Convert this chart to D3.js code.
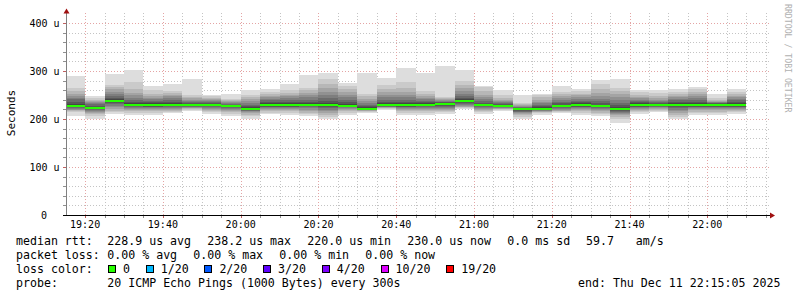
<!DOCTYPE html>
<html>
<head>
<meta charset="utf-8">
<script src="https://cdn.jsdelivr.net/npm/d3@7"></script>
<style>
  body { margin: 0; background: #fff; }
  svg { display: block; font-family: "DejaVu Sans Mono", monospace; }
</style>
</head>
<body>
<svg id="chart" width="797" height="297"></svg>
<script>
// time window of the graph
const startTime = '19:15:05';
const endTime = '22:15:05';

// 5 minute slots (start of each step)
const slots = ['19:15', '19:20', '19:25', '19:30', '19:35', '19:40', '19:45', '19:50', '19:55',
  '20:00', '20:05', '20:10', '20:15', '20:20', '20:25', '20:30', '20:35', '20:40', '20:45',
  '20:50', '20:55', '21:00', '21:05', '21:10', '21:15', '21:20', '21:25', '21:30', '21:35',
  '21:40', '21:45', '21:50', '21:55', '22:00', '22:05'];

// median rtt per slot (us)
const medians = [227, 223, 238, 230, 230, 230, 230, 230, 227, 221, 230, 230, 230, 230, 227, 221, 230, 230,
  230, 232, 238, 230, 227, 220, 221, 227, 230, 227, 221, 230, 230, 230, 230, 230, 230];

// the 20 sorted ping rtts per slot (us)
const pings = [
  [206, 214, 216, 218, 219, 221, 223, 225, 226, 227, 228, 231, 236, 241, 244, 248, 253, 258, 265, 290],
  [201, 207, 211, 213, 215, 217, 219, 221, 222, 223, 224, 226, 228, 231, 233, 235, 238, 240, 243, 248],
  [210, 214, 217, 220, 224, 228, 232, 234, 236, 238, 239, 241, 244, 248, 252, 257, 262, 266, 271, 294],
  [209, 213, 216, 218, 220, 222, 225, 227, 229, 230, 231, 233, 236, 240, 244, 249, 255, 262, 277, 302],
  [209, 213, 216, 218, 220, 222, 224, 226, 228, 230, 231, 233, 235, 238, 241, 244, 248, 253, 260, 269],
  [212, 215, 217, 219, 221, 223, 225, 227, 228, 230, 231, 233, 236, 239, 243, 247, 251, 255, 258, 273],
  [217, 219, 221, 222, 223, 224, 226, 227, 229, 230, 231, 232, 234, 236, 238, 240, 243, 246, 249, 283],
  [210, 214, 217, 219, 221, 223, 225, 227, 229, 230, 231, 232, 234, 236, 238, 240, 242, 244, 247, 249],
  [206, 211, 214, 216, 218, 220, 222, 224, 226, 227, 228, 229, 230, 232, 234, 236, 237, 239, 241, 252],
  [199, 206, 209, 212, 214, 216, 217, 219, 220, 221, 222, 224, 227, 230, 234, 238, 242, 246, 251, 260],
  [210, 213, 216, 218, 220, 222, 224, 226, 228, 230, 231, 233, 236, 239, 242, 245, 248, 252, 256, 262],
  [209, 213, 216, 218, 220, 222, 224, 226, 228, 230, 231, 233, 236, 240, 243, 247, 251, 255, 260, 273],
  [206, 210, 213, 216, 219, 222, 225, 227, 229, 230, 231, 233, 236, 240, 245, 250, 255, 260, 265, 292],
  [199, 205, 209, 213, 216, 219, 222, 225, 228, 230, 231, 234, 238, 243, 249, 256, 264, 272, 284, 295],
  [209, 213, 216, 219, 221, 223, 224, 225, 226, 227, 228, 231, 235, 240, 245, 251, 256, 262, 268, 276],
  [212, 214, 216, 217, 218, 219, 220, 220, 221, 221, 222, 224, 227, 230, 234, 238, 242, 247, 253, 296],
  [219, 221, 222, 223, 224, 225, 226, 227, 229, 230, 231, 233, 236, 240, 245, 250, 256, 262, 270, 285],
  [209, 213, 216, 218, 220, 222, 224, 226, 228, 230, 231, 233, 236, 240, 245, 251, 257, 265, 277, 307],
  [209, 213, 216, 219, 221, 223, 225, 227, 228, 230, 231, 233, 235, 238, 241, 244, 248, 253, 258, 295],
  [211, 214, 217, 219, 221, 223, 225, 227, 229, 231, 233, 234, 235, 236, 238, 240, 241, 243, 246, 310],
  [220, 222, 224, 226, 228, 230, 232, 234, 236, 238, 239, 241, 244, 248, 253, 258, 264, 270, 279, 302],
  [211, 214, 217, 219, 221, 223, 225, 227, 228, 230, 231, 232, 234, 237, 241, 246, 251, 258, 266, 269],
  [217, 219, 220, 221, 222, 223, 224, 225, 226, 227, 228, 229, 231, 233, 235, 237, 240, 244, 250, 260],
  [200, 205, 208, 210, 212, 214, 215, 217, 218, 220, 221, 222, 223, 225, 226, 228, 229, 231, 234, 251],
  [209, 212, 214, 215, 216, 217, 218, 219, 220, 221, 222, 224, 227, 230, 233, 236, 240, 245, 249, 252],
  [212, 214, 216, 217, 218, 220, 222, 224, 226, 227, 228, 230, 233, 236, 240, 244, 248, 252, 257, 269],
  [209, 213, 216, 218, 220, 222, 224, 226, 228, 230, 231, 233, 235, 238, 241, 245, 249, 253, 258, 262],
  [206, 210, 213, 216, 218, 220, 222, 224, 226, 227, 228, 230, 233, 237, 242, 248, 255, 263, 272, 281],
  [192, 199, 204, 208, 211, 213, 215, 217, 219, 221, 222, 225, 229, 234, 240, 246, 252, 258, 265, 283],
  [211, 214, 216, 218, 220, 222, 224, 226, 228, 230, 231, 233, 235, 237, 240, 243, 246, 250, 256, 260],
  [215, 217, 219, 220, 222, 224, 226, 227, 228, 230, 231, 232, 233, 235, 237, 240, 243, 247, 254, 260],
  [199, 204, 208, 212, 216, 219, 222, 225, 228, 230, 231, 233, 236, 239, 242, 245, 248, 252, 256, 263],
  [208, 212, 215, 218, 220, 222, 224, 226, 228, 230, 231, 233, 236, 240, 244, 248, 252, 257, 262, 266],
  [208, 212, 215, 218, 220, 222, 224, 226, 228, 230, 231, 232, 233, 234, 235, 236, 238, 240, 243, 252],
  [211, 214, 216, 218, 220, 222, 224, 226, 228, 230, 231, 233, 236, 239, 242, 245, 248, 252, 256, 262],
];

const yTicks = [0, 100, 200, 300, 400];
const timeTicks = ['19:20', '19:40', '20:00', '20:20', '20:40', '21:00', '21:20', '21:40', '22:00'];

const rttStats = ['228.9 us avg', '238.2 us max', '220.0 us min', '230.0 us now', '0.0 ms sd'];
const amsValue = '59.7';
const lossStats = ['0.00 % avg', '0.00 % max', '0.00 % min', '0.00 % now'];
const lossLabels = ['0', '1/20', '2/20', '3/20', '4/20', '10/20', '19/20'];
const lossColors = ['#26ff00', '#00b8ff', '#0059ff', '#5e00ff', '#7e00ff', '#dd00ff', '#ff0000'];
const probeText = '20 ICMP Echo Pings (1000 Bytes) every 300s';
const endText = 'end: Thu Dec 11 22:15:05 2025';

const svg = d3.select('#chart');
const parseT = d3.timeParse('%H:%M:%S');
const parseHM = d3.timeParse('%H:%M');
const t0 = parseT(startTime);
const t1 = parseT(endTime);

const x = d3.scaleTime().domain([t0, t1]).range([66, 766]);
const y = d3.scaleLinear().domain([0, 400]).range([215, 23]);
const plotTop = 13;
const gridRight = 769;

// grid (under the data)
const grid = svg.append('g').attr('shape-rendering', 'crispEdges');
d3.range(20, 401, 20).forEach((v) => {
  const major = v % 100 === 0;
  grid.append('line')
    .attr('x1', 66).attr('x2', gridRight)
    .attr('y1', Math.round(y(v)) + 0.5).attr('y2', Math.round(y(v)) + 0.5)
    .attr('stroke', major ? '#e4a4a4' : '#c4c4c4')
    .attr('stroke-dasharray', '1,2');
});
d3.timeMinute.every(5).range(t0, t1).forEach((t) => {
  const major = t.getMinutes() % 20 === 0;
  grid.append('line')
    .attr('x1', Math.round(x(t)) + 0.5).attr('x2', Math.round(x(t)) + 0.5)
    .attr('y1', plotTop).attr('y2', 215)
    .attr('stroke', major ? '#e4a4a4' : '#c4c4c4')
    .attr('stroke-dasharray', '1,2');
});

// smoke: layer i spans ping i .. ping (21-i), darker towards the middle
const smoke = svg.append('g').attr('shape-rendering', 'crispEdges');
const half = 10;
pings.forEach((p, s) => {
  const ts = parseHM(slots[s]);
  const xa = Math.max(x(ts), x(t0));
  const xb = x(d3.timeMinute.offset(ts, 5));
  for (let ibot = 1; ibot <= half; ibot++) {
    const g = Math.floor((190 / half) * (half - ibot)) + 50;
    const lo = p[ibot - 1];
    const hi = p[20 - ibot];
    if (hi <= lo) continue;
    smoke.append('rect')
      .attr('x', Math.round(xa))
      .attr('width', Math.round(xb) - Math.round(xa))
      .attr('y', Math.round(y(hi)))
      .attr('height', Math.max(1, Math.round(y(lo)) - Math.round(y(hi))))
      .attr('fill', d3.rgb(g, g, g));
  }
});

// median line
const med = svg.append('g').attr('shape-rendering', 'crispEdges');
medians.forEach((m, s) => {
  const ts = parseHM(slots[s]);
  const xa = Math.max(x(ts), x(t0));
  const xb = x(d3.timeMinute.offset(ts, 5));
  med.append('rect')
    .attr('x', Math.round(xa))
    .attr('width', Math.round(xb) - Math.round(xa))
    .attr('y', Math.round(y(m)) - 1)
    .attr('height', 2)
    .attr('fill', lossColors[0]);
});

// axes
const axes = svg.append('g').attr('shape-rendering', 'crispEdges');
axes.append('line').attr('x1', 66.5).attr('x2', 66.5).attr('y1', plotTop).attr('y2', 216)
  .attr('stroke', '#808080');
axes.append('line').attr('x1', 63).attr('x2', 770).attr('y1', 215.5).attr('y2', 215.5)
  .attr('stroke', '#000');
d3.range(20, 401, 20).forEach((v) => {
  axes.append('line').attr('x1', 63).attr('x2', 66)
    .attr('y1', Math.round(y(v)) + 0.5).attr('y2', Math.round(y(v)) + 0.5)
    .attr('stroke', v % 100 === 0 ? '#c06060' : '#909090');
});
d3.timeMinute.every(5).range(t0, t1).forEach((t) => {
  axes.append('line')
    .attr('x1', Math.round(x(t)) + 0.5).attr('x2', Math.round(x(t)) + 0.5)
    .attr('y1', 216).attr('y2', 218)
    .attr('stroke', t.getMinutes() % 20 === 0 ? '#c06060' : '#909090');
});
svg.append('path').attr('d', 'M66.5,8.5 L63.5,13.5 L69.5,13.5 Z').attr('fill', '#a01010');
svg.append('path').attr('d', 'M775,215.5 L770,212.5 L770,218.5 Z').attr('fill', '#a01010');

// y labels
svg.append('g').selectAll('text').data(yTicks).join('text')
  .attr('x', (d) => (d === 0 ? 47 : 59.5))
  .attr('y', (d) => y(d) + 4)
  .attr('text-anchor', 'end')
  .attr('font-size', 10)
  .attr('fill', '#000')
  .text((d) => (d === 0 ? '0' : `${d} u`));

// x labels
svg.append('g').selectAll('text').data(timeTicks).join('text')
  .attr('x', (d) => x(parseHM(d)))
  .attr('y', 228)
  .attr('text-anchor', 'middle')
  .attr('font-size', 10)
  .attr('fill', '#000')
  .text((d) => d);

svg.append('text')
  .attr('transform', 'translate(15,113) rotate(-90)')
  .attr('text-anchor', 'middle')
  .attr('font-size', 11)
  .text('Seconds');

svg.append('text')
  .attr('transform', 'translate(785,4) rotate(90)')
  .attr('font-size', 8.2)
  .attr('fill', '#b0b0b0')
  .text('RRDTOOL / TOBI OETIKER');

// legend
const lg = svg.append('g').attr('font-size', 11.6).attr('fill', '#000');
const lineY = [245, 259, 273, 287];
lg.append('text').attr('x', 16).attr('y', lineY[0]).text('median rtt:');
rttStats.forEach((s, i) => lg.append('text').attr('x', 107.3 + i * 100).attr('y', lineY[0]).text(s));
lg.append('text').attr('x', 586).attr('y', lineY[0]).text(amsValue);
lg.append('text').attr('x', 635.7).attr('y', lineY[0]).text('am/s');

lg.append('text').attr('x', 16).attr('y', lineY[1]).text('packet loss:');
lossStats.forEach((s, i) => lg.append('text').attr('x', 107.3 + i * 86).attr('y', lineY[1]).text(s));

lg.append('text').attr('x', 16).attr('y', lineY[2]).text('loss color:');
let bx = 108;
lossLabels.forEach((l, i) => {
  lg.append('rect').attr('x', bx + 0.5).attr('y', 265.5).attr('width', 7).attr('height', 7)
    .attr('fill', lossColors[i]).attr('stroke', '#000').attr('stroke-width', 1)
    .attr('shape-rendering', 'crispEdges');
  lg.append('text').attr('x', bx + 15).attr('y', lineY[2]).text(l);
  bx = bx + 15 + l.length * 7 + 15.7;
});

lg.append('text').attr('x', 16).attr('y', lineY[3]).text('probe:');
lg.append('text').attr('x', 107.3).attr('y', lineY[3]).text(probeText);
lg.append('text').attr('x', 578).attr('y', lineY[3]).text(endText);
</script>
</body>
</html>
